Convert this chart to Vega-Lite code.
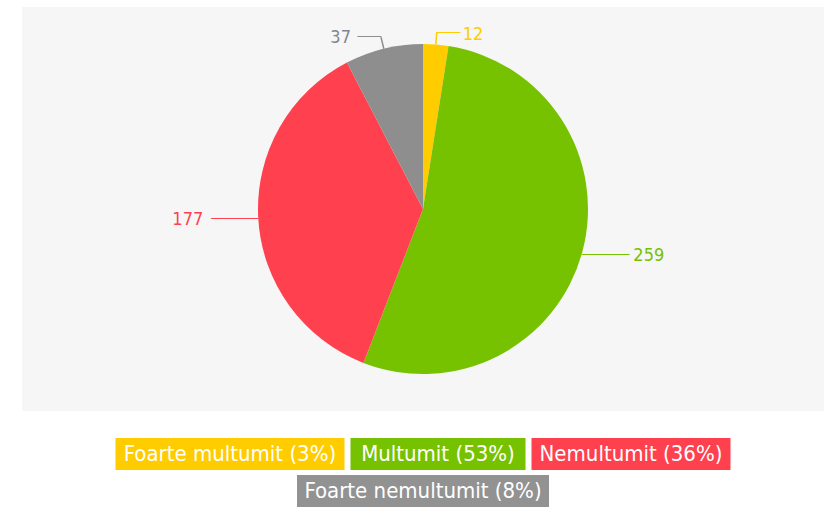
{
  "$schema": "https://vega.github.io/schema/vega-lite/v6.json",
  "padding": {"left": 22, "top": 7, "right": 0, "bottom": 0},
  "background": "white",
  "config": {"view": {"stroke": null}},
  "datasets": {
    "survey": [
      {"category": "Foarte multumit", "count": 12, "rank": 1, "legend": "Foarte multumit (3%)"},
      {"category": "Multumit", "count": 259, "rank": 2, "legend": "Multumit (53%)"},
      {"category": "Nemultumit", "count": 177, "rank": 3, "legend": "Nemultumit (36%)"},
      {"category": "Foarte nemultumit", "count": 37, "rank": 4, "legend": "Foarte nemultumit (8%)"}
    ]
  },
  "spacing": 27,
  "center": true,
  "vconcat": [
    {
      "width": 802,
      "height": 404,
      "view": {"fill": "#f6f6f6"},
      "data": {"name": "survey"},
      "encoding": {
        "theta": {"field": "count", "type": "quantitative", "stack": true},
        "order": {"field": "rank", "type": "quantitative"},
        "color": {
          "field": "category",
          "type": "nominal",
          "legend": null,
          "scale": {
            "domain": ["Foarte multumit", "Multumit", "Nemultumit", "Foarte nemultumit"],
            "range": ["#FFCC00", "#77C200", "#FF404E", "#8E8E8E"]
          }
        }
      },
      "layer": [
        {"mark": {"type": "arc", "outerRadius": 165, "stroke": null}},
        {
          "mark": {"type": "arc", "innerRadius": 165, "outerRadius": 177, "padAngle": 3, "filled": false, "strokeWidth": 1.5},
          "encoding": {"strokeOpacity": {"condition": {"test": "datum.rank == 1 || datum.rank == 4", "value": 1}, "value": 0}}
        },
        {
          "mark": {"type": "text", "radius": 177, "align": "left", "baseline": "middle", "font": "DejaVu Sans", "fontSize": 13},
          "encoding": {"text": {"condition": {"test": "datum.rank == 1", "value": "───"}, "value": ""}}
        },
        {
          "mark": {"type": "text", "radius": 177, "align": "right", "baseline": "middle", "font": "DejaVu Sans", "fontSize": 13},
          "encoding": {"text": {"condition": {"test": "datum.rank == 4", "value": "───"}, "value": ""}}
        },
        {
          "mark": {"type": "text", "radius": 165, "align": "left", "baseline": "middle", "dy": 3, "font": "DejaVu Sans", "fontSize": 13},
          "encoding": {"text": {"condition": {"test": "datum.rank == 2", "value": "──────"}, "value": ""}}
        },
        {
          "mark": {"type": "text", "radius": 165, "align": "right", "baseline": "middle", "dy": 1, "font": "DejaVu Sans", "fontSize": 13},
          "encoding": {"text": {"condition": {"test": "datum.rank == 3", "value": "──────"}, "value": ""}}
        },
        {
          "mark": {"type": "text", "radius": 177, "align": "left", "baseline": "middle", "dx": 26, "dy": 2.5, "font": "DejaVu Sans Condensed", "fontSize": 18},
          "encoding": {"text": {"condition": {"test": "datum.rank == 1", "field": "count", "type": "quantitative"}, "value": ""}}
        },
        {
          "mark": {"type": "text", "radius": 177, "align": "right", "baseline": "middle", "dx": -30, "dy": 1, "font": "DejaVu Sans Condensed", "fontSize": 18},
          "encoding": {"text": {"condition": {"test": "datum.rank == 4", "field": "count", "type": "quantitative"}, "value": ""}, "color": {"value": "#7f8790"}}
        },
        {
          "mark": {"type": "text", "radius": 165, "align": "left", "baseline": "middle", "dx": 51, "dy": 4, "font": "DejaVu Sans Condensed", "fontSize": 18},
          "encoding": {"text": {"condition": {"test": "datum.rank == 2", "field": "count", "type": "quantitative"}, "value": ""}}
        },
        {
          "mark": {"type": "text", "radius": 165, "align": "right", "baseline": "middle", "dx": -55, "dy": 2, "font": "DejaVu Sans Condensed", "fontSize": 18},
          "encoding": {"text": {"condition": {"test": "datum.rank == 3", "field": "count", "type": "quantitative"}, "value": ""}}
        }
      ]
    },
    {
      "spacing": 5,
      "center": true,
      "vconcat": [
        {
          "spacing": 6,
          "hconcat": [
            {
              "width": 229, "height": 32,
              "view": {"fill": "#FFCC00"},
              "data": {"name": "survey"},
              "transform": [{"filter": "datum.rank == 1"}],
              "mark": {"type": "text", "color": "white", "align": "center", "baseline": "middle", "font": "DejaVu Sans Condensed", "fontSize": 22},
              "encoding": {"text": {"field": "legend", "type": "nominal"}}
            },
            {
              "width": 175, "height": 32,
              "view": {"fill": "#77C200"},
              "data": {"name": "survey"},
              "transform": [{"filter": "datum.rank == 2"}],
              "mark": {"type": "text", "color": "white", "align": "center", "baseline": "middle", "font": "DejaVu Sans Condensed", "fontSize": 22},
              "encoding": {"text": {"field": "legend", "type": "nominal"}}
            },
            {
              "width": 199, "height": 32,
              "view": {"fill": "#FF404E"},
              "data": {"name": "survey"},
              "transform": [{"filter": "datum.rank == 3"}],
              "mark": {"type": "text", "color": "white", "align": "center", "baseline": "middle", "font": "DejaVu Sans Condensed", "fontSize": 22},
              "encoding": {"text": {"field": "legend", "type": "nominal"}}
            }
          ]
        },
        {
          "width": 252, "height": 32,
          "view": {"fill": "#929292"},
          "data": {"name": "survey"},
          "transform": [{"filter": "datum.rank == 4"}],
          "mark": {"type": "text", "color": "white", "align": "center", "baseline": "middle", "font": "DejaVu Sans Condensed", "fontSize": 22},
          "encoding": {"text": {"field": "legend", "type": "nominal"}}
        }
      ]
    }
  ]
}
